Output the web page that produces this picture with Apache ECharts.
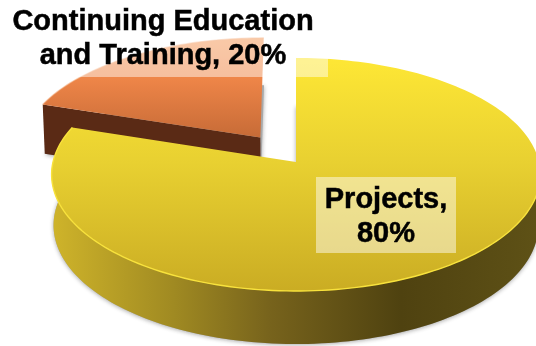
<!DOCTYPE html>
<html>
<head>
<meta charset="utf-8">
<style>html,body{margin:0;padding:0;background:#fff}#chart{width:536px;height:346px}</style>
<script src="https://cdn.jsdelivr.net/npm/echarts@6/dist/echarts.min.js"></script>
</head>
<body>
<div id="chart"></div>
<script>
// Pie shares
const categories = ['Continuing Education\nand Training', 'Projects'];
const shares = [20, 80];
const labelJoiners = [', ', ',\n'];

// Projection of the unit disc onto the page: tilted view with slight perspective
const view = { cx: 296, cy: 162, rx: 243, ry: 115.2, persp: 0.107, depth: 50.5, depthPersp: 0.05, baseShrink: 0.992 };
const explode = [[-0.15, 0.218], [0, 0]];
const labelBoxes = [
  { x: -4, y: -4, width: 332, height: 81, cx: 163, lineGap: 34, firstLine: 21.5, font: 29 },
  { x: 316, y: 177, width: 140, height: 76, cx: 386, lineGap: 33.5, firstLine: 200, font: 29 }
];

const linear = (x, y, x2, y2, stops) => ({
  type: 'linear', global: true, x, y, x2, y2,
  colorStops: stops.map(([offset, color]) => ({ offset, color }))
});
const looks = [
  {
    top: linear(0, 38, 0, 140, [[0, '#f49a5a'], [0.4, '#ee8548'], [1, '#c56a36']]),
    wall: '#5a2a15', rim: 'rgba(242,160,106,0.5)'
  },
  {
    top: linear(0, 58, 0, 292, [[0, '#fee735'], [0.45, '#e8d031'], [1, '#caac23']]),
    wall: linear(52, 0, 536, 0, [[0, '#cfb42a'], [0.25, '#a08a22'], [0.45, '#77631c'], [0.72, '#4f4210'], [1, '#5e5116']]),
    rim: '#f8e23c'
  }
];

function project(u, v, lower) {
  const d = 1 + view.persp * v;
  let x = view.cx + view.rx * u / d;
  let y = view.cy - view.ry * v / d;
  if (lower) {
    x = view.cx + (x - view.cx) * view.baseShrink;
    y += view.depth * (1 - view.depthPersp * v);
  }
  return [x, y];
}

function arc(from, to, off, lower) {
  const pts = [];
  const n = Math.max(2, Math.ceil(Math.abs(to - from) / 1.5));
  for (let i = 0; i <= n; i++) {
    const t = (from + (to - from) * i / n) * Math.PI / 180;
    pts.push(project(off[0] + Math.sin(t), off[1] + Math.cos(t), lower));
  }
  return pts;
}

// Slices run clockwise from twelve o'clock; the first one sits just left of it.
function sweep(idx) {
  const total = shares.reduce((a, b) => a + b, 0);
  return idx === 0
    ? [-shares[0] / total * 360, 0]
    : [0, shares[1] / total * 360];
}

function renderSlice(params, api) {
  const i = params.dataIndex;
  const [start, end] = [api.value(1), api.value(2)];
  const off = explode[i];
  const look = looks[i];
  const apexTop = project(off[0], off[1], false);
  const apexLow = project(off[0], off[1], true);
  const topEdge = arc(start, end, off, false);
  const baseEdge = arc(start, end, off, true);
  const children = [{
    // Floor of the slice: only its soft shadow shows past the walls
    type: 'polygon',
    shape: { points: [apexLow].concat(baseEdge) },
    style: { fill: '#a8a8a8', shadowBlur: 4, shadowColor: 'rgba(40,40,40,0.4)', shadowOffsetY: 1 }
  }];
  if (i === 0) {
    // Cut face turned toward the viewer
    children.push({
      type: 'polygon',
      shape: { points: [apexTop, topEdge[0], baseEdge[0], apexLow] },
      style: { fill: look.wall }
    });
  } else {
    // Outer rim from the right-hand tangent round the front to the cut
    const a = arc(88, end, off, false);
    const b = arc(88, end, off, true).reverse();
    children.push({
      type: 'polygon',
      shape: { points: a.concat(b) },
      style: { fill: look.wall }
    });
  }
  children.push({
    type: 'polygon',
    shape: { points: [apexTop].concat(topEdge) },
    style: { fill: look.top }
  });
  children.push({
    type: 'polyline',
    shape: { points: i === 0 ? topEdge : arc(88, end, off, false) },
    style: { fill: 'none', stroke: look.rim, lineWidth: 1.4 }
  });
  return { type: 'group', children };
}

function renderLabel(params) {
  const i = params.dataIndex;
  const box = labelBoxes[i];
  const lines = (categories[i] + labelJoiners[i] + shares[i] + '%').split('\n');
  const children = [{
    type: 'rect',
    shape: { x: box.x, y: box.y, width: box.width, height: box.height },
    style: { fill: 'rgba(255,255,255,0.47)' }
  }];
  lines.forEach((text, n) => children.push({
    type: 'text',
    style: {
      text, x: box.cx, y: box.firstLine + n * box.lineGap,
      align: 'center', verticalAlign: 'middle',
      fill: '#000', stroke: '#000', lineWidth: 0.5,
      font: 'bold ' + box.font + 'px "Liberation Sans", Arial, sans-serif'
    }
  }));
  return { type: 'group', children };
}

const sliceData = categories.map((name, i) => {
  const [a, b] = sweep(i);
  return { name, value: [i, a, b] };
});

const chart = echarts.init(document.getElementById('chart'), null, { renderer: 'canvas' });
chart.setOption({
  animation: false,
  backgroundColor: '#fff',
  xAxis: { show: false, min: 0, max: 1 },
  yAxis: { show: false, min: 0, max: 1 },
  grid: { left: 0, right: 0, top: 0, bottom: 0 },
  series: [
    { type: 'custom', coordinateSystem: 'none', renderItem: renderSlice, data: sliceData, z: 2, silent: true },
    { type: 'custom', coordinateSystem: 'none', renderItem: renderLabel, data: sliceData, z: 3, silent: true }
  ]
});
</script>
</body>
</html>
